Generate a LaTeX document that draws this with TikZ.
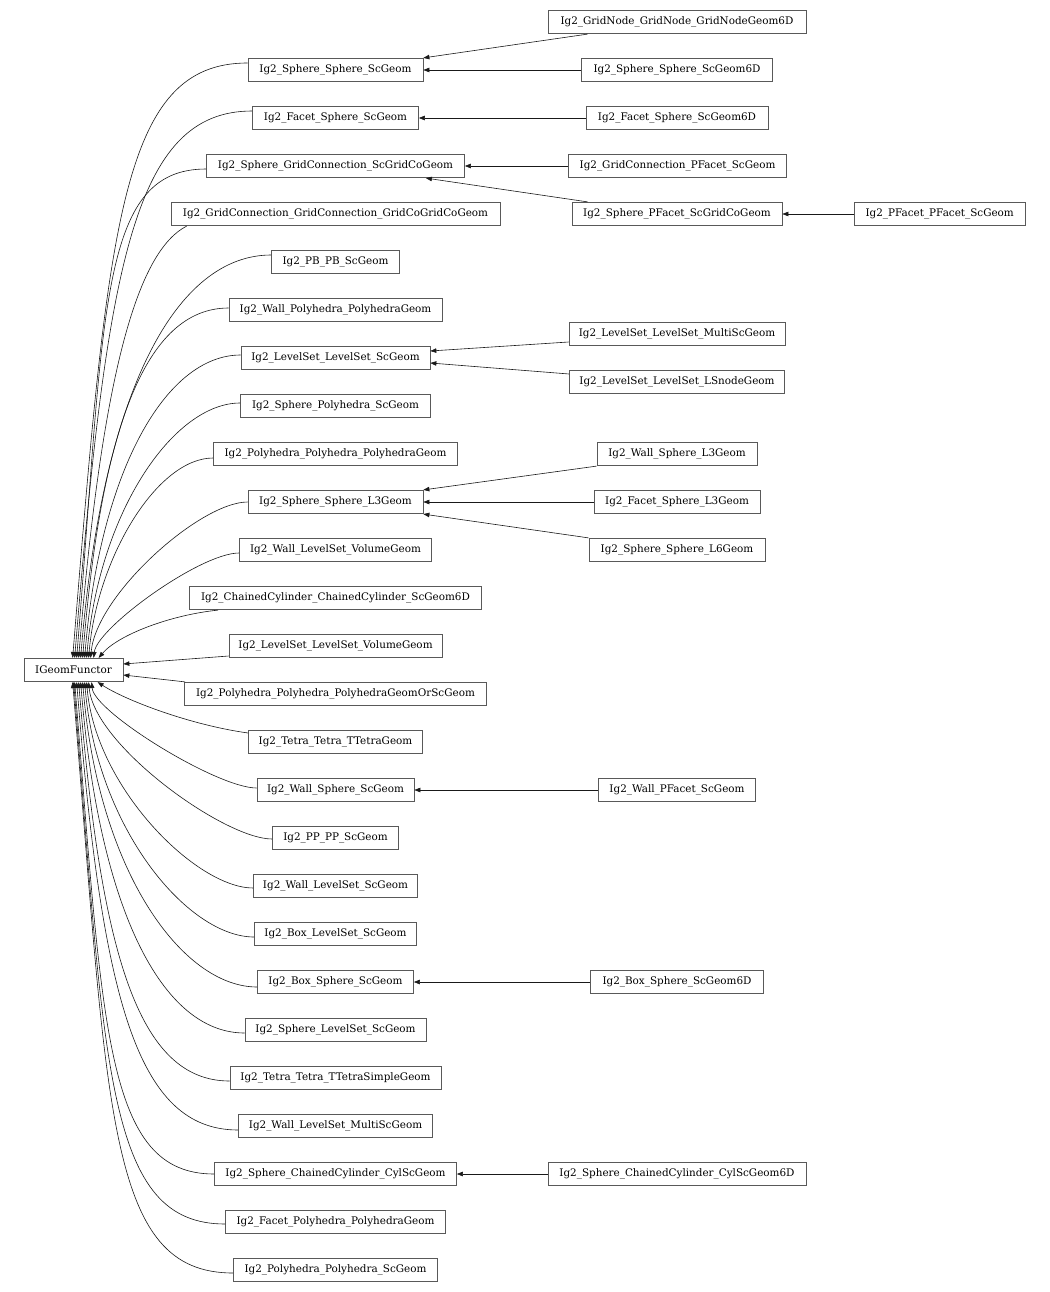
\documentclass[tikz,border=0pt]{standalone}
\usepackage{fontspec}
\setmainfont{DejaVu Serif}
\usetikzlibrary{arrows.meta,calc}
\begin{document}
\begin{tikzpicture}[x=1pt,y=-1pt,
  box/.style={draw=black!65, fill=white, line width=0.7pt, minimum height=23.5pt, inner sep=0pt, font=\fontsize{10.4}{12}\selectfont},
  edge/.style={draw=black!90, line width=0.6pt, -{Triangle[length=6pt,width=4.5pt]}}]
\useasboundingbox (0,0) rectangle (1049,1292);
% root
\node[box, minimum width=99pt] (ig) at (73.5,670) {IGeomFunctor};
% column 2
\node[box, minimum width=175pt] (n1) at (335.5,70) {Ig2\_Sphere\_Sphere\_ScGeom};
\node[box, minimum width=166pt] (n2) at (335.5,118) {Ig2\_Facet\_Sphere\_ScGeom};
\node[box, minimum width=258pt] (n3) at (335.5,166) {Ig2\_Sphere\_GridConnection\_ScGridCoGeom};
\node[box, minimum width=329pt] (n4) at (335.5,214) {Ig2\_GridConnection\_GridConnection\_GridCoGridCoGeom};
\node[box, minimum width=128pt] (n5) at (335.5,262) {Ig2\_PB\_PB\_ScGeom};
\node[box, minimum width=213pt] (n6) at (335.5,310) {Ig2\_Wall\_Polyhedra\_PolyhedraGeom};
\node[box, minimum width=189pt] (n7) at (335.5,358) {Ig2\_LevelSet\_LevelSet\_ScGeom};
\node[box, minimum width=190pt] (n8) at (335.5,406) {Ig2\_Sphere\_Polyhedra\_ScGeom};
\node[box, minimum width=244pt] (n9) at (335.5,454) {Ig2\_Polyhedra\_Polyhedra\_PolyhedraGeom};
\node[box, minimum width=175pt] (n10) at (335.5,502) {Ig2\_Sphere\_Sphere\_L3Geom};
\node[box, minimum width=192pt] (n11) at (335.5,550) {Ig2\_Wall\_LevelSet\_VolumeGeom};
\node[box, minimum width=292pt] (n12) at (335.5,598) {Ig2\_ChainedCylinder\_ChainedCylinder\_ScGeom6D};
\node[box, minimum width=213pt] (n13) at (335.5,646) {Ig2\_LevelSet\_LevelSet\_VolumeGeom};
\node[box, minimum width=302pt] (n14) at (335.5,694) {Ig2\_Polyhedra\_Polyhedra\_PolyhedraGeomOrScGeom};
\node[box, minimum width=174pt] (n15) at (335.5,742) {Ig2\_Tetra\_Tetra\_TTetraGeom};
\node[box, minimum width=157pt] (n16) at (335.5,790) {Ig2\_Wall\_Sphere\_ScGeom};
\node[box, minimum width=126pt] (n17) at (335.5,838) {Ig2\_PP\_PP\_ScGeom};
\node[box, minimum width=164pt] (n18) at (335.5,886) {Ig2\_Wall\_LevelSet\_ScGeom};
\node[box, minimum width=162pt] (n19) at (335.5,934) {Ig2\_Box\_LevelSet\_ScGeom};
\node[box, minimum width=156pt] (n20) at (335.5,982) {Ig2\_Box\_Sphere\_ScGeom};
\node[box, minimum width=181pt] (n21) at (335.5,1030) {Ig2\_Sphere\_LevelSet\_ScGeom};
\node[box, minimum width=211pt] (n22) at (335.5,1078) {Ig2\_Tetra\_Tetra\_TTetraSimpleGeom};
\node[box, minimum width=194pt] (n23) at (335.5,1126) {Ig2\_Wall\_LevelSet\_MultiScGeom};
\node[box, minimum width=242pt] (n24) at (335.5,1174) {Ig2\_Sphere\_ChainedCylinder\_CylScGeom};
\node[box, minimum width=220pt] (n25) at (335.5,1222) {Ig2\_Facet\_Polyhedra\_PolyhedraGeom};
\node[box, minimum width=204pt] (n26) at (335.5,1270) {Ig2\_Polyhedra\_Polyhedra\_ScGeom};
% column 3
\node[box, minimum width=258pt] (c1) at (677,22) {Ig2\_GridNode\_GridNode\_GridNodeGeom6D};
\node[box, minimum width=191pt] (c2) at (677,70) {Ig2\_Sphere\_Sphere\_ScGeom6D};
\node[box, minimum width=182pt] (c3) at (677,118) {Ig2\_Facet\_Sphere\_ScGeom6D};
\node[box, minimum width=218pt] (c4) at (677.5,166) {Ig2\_GridConnection\_PFacet\_ScGeom};
\node[box, minimum width=210pt] (c5) at (677,214) {Ig2\_Sphere\_PFacet\_ScGridCoGeom};
\node[box, minimum width=171pt] (c6) at (939.7,214) {Ig2\_PFacet\_PFacet\_ScGeom};
\node[box, minimum width=216pt] (c7) at (677,334) {Ig2\_LevelSet\_LevelSet\_MultiScGeom};
\node[box, minimum width=215pt] (c8) at (677,382) {Ig2\_LevelSet\_LevelSet\_LSnodeGeom};
\node[box, minimum width=160pt] (c9) at (677,454) {Ig2\_Wall\_Sphere\_L3Geom};
\node[box, minimum width=166pt] (c10) at (677,502) {Ig2\_Facet\_Sphere\_L3Geom};
\node[box, minimum width=176pt] (c11) at (677,550) {Ig2\_Sphere\_Sphere\_L6Geom};
\node[box, minimum width=157pt] (c12) at (677,790) {Ig2\_Wall\_PFacet\_ScGeom};
\node[box, minimum width=173pt] (c13) at (677,982) {Ig2\_Box\_Sphere\_ScGeom6D};
\node[box, minimum width=258pt] (c14) at (677,1174) {Ig2\_Sphere\_ChainedCylinder\_CylScGeom6D};
% edges to root (upper)
\draw[edge] ($(n1.west)+(0,-7)$) .. controls (121,63) and (108,222) .. ($(ig.north west)+(49,0)$);
\draw[edge] ($(n2.west)+(0,-7)$) .. controls (134,111) and (107,263) .. ($(ig.north west)+(51,0)$);
\draw[edge] ($(n3.west)+(0,3)$) .. controls (98,169) and (105,312) .. ($(ig.north west)+(53,0)$);
\draw[edge] ($(n4.south west)+(16,0)$) .. controls (140,250) and (103,361) .. ($(ig.north west)+(55,0)$);
\draw[edge] ($(n5.west)+(0,-7)$) .. controls (178,255) and (103,385) .. ($(ig.north west)+(57,0)$);
\draw[edge] ($(n6.west)+(0,-2)$) .. controls (145,308) and (101,430) .. ($(ig.north west)+(59,0)$);
\draw[edge] ($(n7.west)+(0,-3)$) .. controls (166,355) and (100,470) .. ($(ig.north west)+(61,0)$);
\draw[edge] ($(n8.west)+(0,-3)$) .. controls (174,403) and (99,511) .. ($(ig.north west)+(63,0)$);
\draw[edge] ($(n9.west)+(0,4)$) .. controls (157,458) and (97,558) .. ($(ig.north west)+(65,0)$);
\draw[edge] (n10.west) .. controls (200,502) and (96,595) .. ($(ig.north west)+(67,0)$);
\draw[edge] ($(n11.west)+(0,3)$) .. controls (200,553) and (97,628) .. ($(ig.north west)+(70,0)$);
\draw[edge] ($(n12.south west)+(29,0)$) .. controls (170,615) and (118,635) .. ($(ig.north west)+(75,0)$);
\draw[edge] ($(n13.west)+(0,10)$) -- ($(ig.east)+(0,-6)$);
\draw[edge] ($(n14.north west)+(1,0)$) -- ($(ig.east)+(0,5)$);
% edges to root (lower)
\draw[edge] ($(n15.west)+(0,-9)$) .. controls (190,725) and (125,700) .. ($(ig.south west)+(74,0)$);
\draw[edge] ($(n16.west)+(0,-2)$) .. controls (217,788) and (94,712) .. ($(ig.south west)+(68,0)$);
\draw[edge] ($(n17.west)+(0,1)$) .. controls (224,839) and (94,745) .. ($(ig.south west)+(65,0)$);
\draw[edge] ($(n18.west)+(0,2)$) .. controls (196,888) and (95,787) .. ($(ig.south west)+(63,0)$);
\draw[edge] ($(n19.west)+(0,3)$) .. controls (188,937) and (97,829) .. ($(ig.south west)+(61,0)$);
\draw[edge] ($(n20.west)+(0,5)$) .. controls (182,987) and (98,871) .. ($(ig.south west)+(59,0)$);
\draw[edge] ($(n21.west)+(0,3)$) .. controls (162,1033) and (99,910) .. ($(ig.south west)+(57,0)$);
\draw[edge] ($(n22.west)+(0,3)$) .. controls (138,1081) and (101,954) .. ($(ig.south west)+(55,0)$);
\draw[edge] ($(n23.west)+(0,4)$) .. controls (136,1130) and (102,997) .. ($(ig.south west)+(53,0)$);
\draw[edge] (n24.west) .. controls (105,1174) and (103,1030) .. ($(ig.south west)+(51,0)$);
\draw[edge] ($(n25.west)+(0,2)$) .. controls (107,1224) and (105,1073) .. ($(ig.south west)+(50,0)$);
\draw[edge] ($(n26.west)+(0,3)$) .. controls (107,1273) and (108,1114) .. ($(ig.south west)+(49,0)$);
% edges between columns
\draw[edge] ($(c1.south west)+(40,0)$) -- (n1.north east);
\draw[edge] (c2.west) -- (n1.east);
\draw[edge] (c3.west) -- (n2.east);
\draw[edge] (c4.west) -- (n3.east);
\draw[edge] ($(c5.north west)+(16,0)$) -- ($(n3.south east)+(-39,0)$);
\draw[edge] (c6.west) -- (c5.east);
\draw[edge] ($(c7.west)+(0,8)$) -- ($(n7.east)+(0,-7)$);
\draw[edge] ($(c8.west)+(0,-8)$) -- ($(n7.east)+(0,5)$);
\draw[edge] (c9.south west) -- (n10.north east);
\draw[edge] (c10.west) -- (n10.east);
\draw[edge] (c11.north west) -- (n10.south east);
\draw[edge] (c12.west) -- (n16.east);
\draw[edge] (c13.west) -- (n20.east);
\draw[edge] (c14.west) -- (n24.east);
\end{tikzpicture}
\end{document}
